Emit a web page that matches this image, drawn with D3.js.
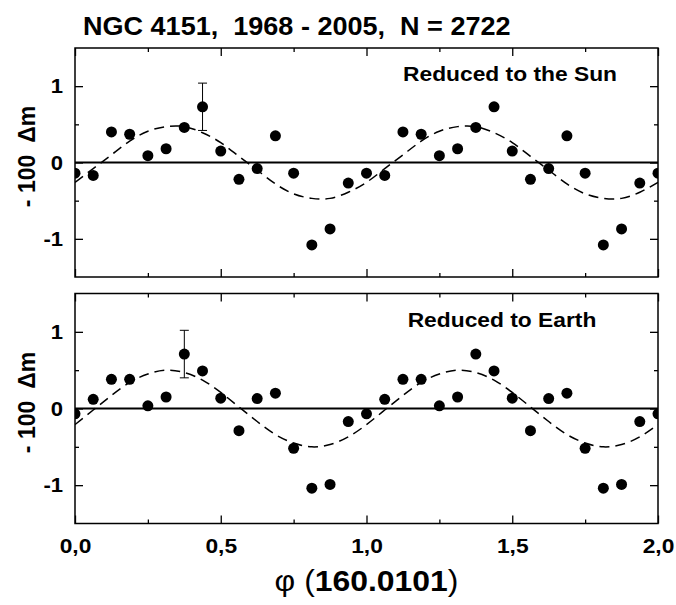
<!DOCTYPE html>
<html>
<head>
<meta charset="utf-8">
<script src="https://cdn.jsdelivr.net/npm/d3@7"></script>
<style>
	body { margin: 0; background: #fff; }
	svg { display: block; font-family: "Liberation Sans", Arial, sans-serif; }
</style>
</head>
<body>
<svg width="676" height="605"></svg>
<script>
/* Folded light curve of NGC 4151, two panels */

// Phases of the 16 bins in one period
var phase = [0, 0.0625, 0.125, 0.1875, 0.25, 0.3125, 0.375, 0.4375,
	0.5, 0.5625, 0.625, 0.6875, 0.75, 0.8125, 0.875, 0.9375];

// -100 dm per bin
var sunValues = [-0.14, -0.17, 0.40, 0.37, 0.09, 0.18, 0.46, 0.73,
	0.15, -0.22, -0.08, 0.35, -0.14, -1.08, -0.87, -0.27];
var earthValues = [-0.07, 0.12, 0.38, 0.38, 0.035, 0.15, 0.71, 0.49,
	0.135, -0.29, 0.13, 0.20, -0.52, -1.04, -0.99, -0.17];

// Fitted dashed curve, read at the same phases
var sunFit = [-0.26, -0.08, 0.10, 0.28, 0.41, 0.47, 0.47, 0.39,
	0.26, 0.08, -0.10, -0.28, -0.41, -0.47, -0.47, -0.39];
var earthFit = [-0.21, -0.02, 0.17, 0.34, 0.45, 0.50, 0.47, 0.37,
	0.21, 0.02, -0.17, -0.34, -0.45, -0.50, -0.47, -0.37];

// One error bar per panel: bin index and half-width
var sunError = { bin: 7, err: 0.31 };
var earthError = { bin: 6, err: 0.31 };

var panelLabels = ["Reduced to the Sun", "Reduced to Earth"];
var titleText = "NGC 4151,  1968 - 2005,  N = 2722";

var xMajor = [0, 0.5, 1, 1.5, 2];
var xMinor = [0.25, 0.75, 1.25, 1.75];
var xTickLabels = ["0,0", "0,5", "1,0", "1,5", "2,0"];
var yMajor = [-1, 0, 1];
var yMinor = [-0.5, 0.5];

// Layout
var left = 75, right = 658;
var stretch = 1.14; // the original lettering is a bit wider than Arial
var panels = [
	{ top: 48, bottom: 277, values: sunValues, fit: sunFit, error: sunError, label: panelLabels[0], labelX: 510 },
	{ top: 293.5, bottom: 523.5, values: earthValues, fit: earthFit, error: earthError, label: panelLabels[1], labelX: 502 }
];

var svg = d3.select("svg");
var x = d3.scaleLinear().domain([0, 2]).range([left, right]);

// Fold the period twice, closing with the first bin at phase 2
function fold(values) {
	var out = [];
	for (var c = 0; c < 2; c++) {
		for (var i = 0; i < phase.length; i++) {
			out.push({ index: phase[i] + c, value: values[i], bin: i, cycle: c });
		}
	}
	out.push({ index: 2, value: values[0], bin: 0, cycle: 2 });
	return out;
}

// Text placed at (tx, ty) and stretched horizontally
function wideText(tx, ty, size, anchor, sx) {
	return svg.append("text")
		.attr("transform", "translate(" + tx + "," + ty + ") scale(" + sx + ",1)")
		.attr("text-anchor", anchor)
		.attr("font-size", size)
		.attr("font-weight", "bold")
		.attr("xml:space", "preserve")
		.style("white-space", "pre");
}

wideText(83, 35, 26, "start", 1.04).text(titleText);

panels.forEach(function (p, k) {
	var y = d3.scaleLinear().domain([-1.5, 1.5]).range([p.bottom, p.top]);
	var g = svg.append("g");

	var clipId = "clip" + k;
	svg.append("clipPath").attr("id", clipId)
		.append("rect")
		.attr("x", left).attr("y", p.top)
		.attr("width", right - left).attr("height", p.bottom - p.top);

	// ticks on all sides, pointing inward
	var xAxisB = g.append("g").attr("transform", "translate(0," + p.bottom + ")")
		.call(d3.axisBottom(x).tickValues(xMajor).tickSize(-8).tickSizeOuter(0).tickPadding(15)
			.tickFormat(function (d, i) { return k == 1 ? xTickLabels[i] : ""; }));
	g.append("g").attr("transform", "translate(0," + p.bottom + ")")
		.call(d3.axisBottom(x).tickValues(xMinor).tickSize(-4).tickSizeOuter(0).tickFormat(""));
	g.append("g").attr("transform", "translate(0," + p.top + ")")
		.call(d3.axisTop(x).tickValues(xMajor).tickSize(-8).tickSizeOuter(0).tickFormat(""));
	g.append("g").attr("transform", "translate(0," + p.top + ")")
		.call(d3.axisTop(x).tickValues(xMinor).tickSize(-4).tickSizeOuter(0).tickFormat(""));
	var yAxisL = g.append("g").attr("transform", "translate(" + left + ",0)")
		.call(d3.axisLeft(y).tickValues(yMajor).tickSize(-8).tickSizeOuter(0).tickPadding(12)
			.tickFormat(function (d) { return d < 0 ? "-" + Math.abs(d) : String(d); }));
	g.append("g").attr("transform", "translate(" + left + ",0)")
		.call(d3.axisLeft(y).tickValues(yMinor).tickSize(-4).tickSizeOuter(0).tickFormat(""));
	g.append("g").attr("transform", "translate(" + right + ",0)")
		.call(d3.axisRight(y).tickValues(yMajor).tickSize(-8).tickSizeOuter(0).tickFormat(""));
	g.append("g").attr("transform", "translate(" + right + ",0)")
		.call(d3.axisRight(y).tickValues(yMinor).tickSize(-4).tickSizeOuter(0).tickFormat(""));

	g.selectAll(".domain").remove();
	g.selectAll(".tick line").attr("stroke", "#000").attr("stroke-width", 1.3);
	g.selectAll(".tick text")
		.attr("fill", "#000")
		.attr("font-family", "Liberation Sans, Arial, sans-serif")
		.attr("font-weight", "bold")
		.attr("font-size", 20);
	xAxisB.selectAll(".tick text").attr("transform", "scale(" + stretch + ",1)");
	yAxisL.selectAll(".tick text")
		.attr("font-size", 21)
		.attr("x", -12 / 1.05)
		.attr("transform", "scale(1.05,1)");

	var plot = svg.append("g").attr("clip-path", "url(#" + clipId + ")");

	// zero line
	plot.append("line")
		.attr("x1", left).attr("x2", right)
		.attr("y1", y(0)).attr("y2", y(0))
		.attr("stroke", "#000").attr("stroke-width", 2);

	// dashed fit
	var line = d3.line()
		.x(function (d) { return x(d.index) })
		.y(function (d) { return y(d.value) })
		.curve(d3.curveNatural);
	plot.append("path")
		.datum(fold(p.fit))
		.attr("fill", "none")
		.attr("stroke", "#000")
		.attr("stroke-width", 1.5)
		.attr("stroke-dasharray", "10,6")
		.attr("d", line);

	// error bar on the first cycle only
	var eb = p.error, ex = x(phase[eb.bin]), ev = p.values[eb.bin];
	plot.append("line")
		.attr("x1", ex).attr("x2", ex)
		.attr("y1", y(ev + eb.err)).attr("y2", y(ev - eb.err))
		.attr("stroke", "#000").attr("stroke-width", 1);
	[ev + eb.err, ev - eb.err].forEach(function (v) {
		plot.append("line")
			.attr("x1", ex - 4.5).attr("x2", ex + 4.5)
			.attr("y1", y(v)).attr("y2", y(v))
			.attr("stroke", "#000").attr("stroke-width", 1);
	});

	plot.selectAll("circle")
		.data(fold(p.values))
		.enter().append("circle")
		.attr("r", 5.5)
		.attr("cx", function (d) { return x(d.index) })
		.attr("cy", function (d) { return y(d.value) })
		.attr("fill", "#000");

	// frame
	svg.append("rect")
		.attr("x", left).attr("y", p.top)
		.attr("width", right - left).attr("height", p.bottom - p.top)
		.attr("fill", "none").attr("stroke", "#000").attr("stroke-width", 1.5);

	wideText(p.labelX, p.top + 33, 20, "middle", stretch).text(p.label);

	svg.append("text")
		.attr("transform", "translate(35," + ((p.top + p.bottom) / 2 - 6) + ") rotate(-90)")
		.attr("xml:space", "preserve")
		.style("white-space", "pre")
		.attr("text-anchor", "middle")
		.attr("font-size", 23)
		.attr("font-weight", "bold")
		.text("- 100  \u0394m");
});

// axis title: phi and brackets in plain weight, period in bold
var xt = wideText(x(1), 591, 29, "middle", 1.1);
xt.append("tspan").attr("font-weight", "normal").text("\u03c6 (");
xt.append("tspan").text("160.0101");
xt.append("tspan").attr("font-weight", "normal").text(")");
</script>
</body>
</html>
